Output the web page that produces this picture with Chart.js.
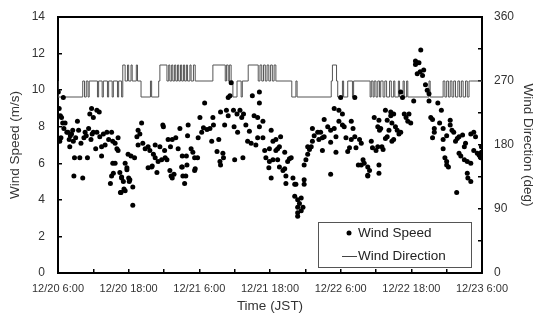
<!DOCTYPE html>
<html>
<head>
<meta charset="utf-8">
<script src="https://cdn.jsdelivr.net/npm/chart.js@4.4.1/dist/chart.umd.min.js"></script>
<style>
body { margin: 0; background: #fff; }
#wrap { width: 540px; height: 325px; }
</style>
</head>
<body>
<div id="wrap"><canvas id="myChart" width="540" height="325"></canvas></div>
<script>
// hours after 12/20 6:00 (JST)
var timeLabels = ['12/20 6:00', '12/20 18:00', '12/21 6:00', '12/21 18:00', '12/22 6:00', '12/22 18:00', '12/23 6:00'];

// wind speed samples (m/s)
var speedHours = [
  0.05,0.2,0.4,0.6,0.9,0.8,1.2,1.0,0.3,0.5,
  1.5,1.7,1.9,2.1,2.3,2.5,2.0,2.6,2.8,2.7,
  3.0,3.3,3.5,3.7,3.9,4.2,4.4,4.6,4.8,5.0,
  5.2,5.4,5.6,5.8,
  5.7,6.6,7.0,6.0,6.0,6.6,7.1,7.7,8.3,8.6,
  9.1,9.3,9.7,10.0,10.2,10.2,7.4,8.0,7.4,6.4,
  9.3,9.1,8.9,10.5,10.8,10.7,11.2,11.4,11.7,12.0,
  12.2,12.7,12.7,11.9,12.4,13.0,9.4,9.7,10.6,11.4,
  10.8,11.1,11.7,12.1,
  13.4,14.2,13.6,13.9,13.6,14.4,14.8,15.3,15.6,16.2,
  16.5,17.0,17.6,15.3,15.9,16.8,17.8,17.3,16.5,16.0,
  18.7,19.4,20.0,19.1,18.1,18.2,18.5,19.0,19.2,19.4,
  19.7,20.4,20.7,22.1,22.0,21.1,21.8,21.1,21.9,21.2,
  21.7,21.5,22.6,22.9,23.2,23.7,23.2,21.0,23.3,17.9,
  23.8,24.4,24.7,25.3,24.9,24.1,25.8,26.4,26.3,26.1,
  27.3,27.0,28.0,28.1,27.5,27.6,27.6,28.6,28.9,28.3,
  29.8,30.4,30.9,31.5,31.2,29.2,28.9,29.4,30.0,31.4,
  29.9,30.5,31.9,32.5,32.2,32.8,33.0,34.2,34.2,33.3,
  33.9,34.8,34.2,33.9,34.8,33.6,35.1,35.9,35.3,35.9,
  36.2,35.8,
  36.2,36.5,37.0,37.3,37.8,37.0,37.6,36.5,37.3,37.6,
  38.2,38.5,38.5,39.3,39.0,39.6,38.7,39.9,38.7,40.2,
  40.4,41.8,41.8,40.2,40.7,41.3,41.0,41.6,41.3,40.7,
  40.7,40.7,41.8,42.1,42.4,42.7,43.0,43.2,42.4,43.2,
  43.5,44.1,44.6,45.2,44.3,44.9,44.9,45.2,45.8,46.3,
  46.9,47.2,46.3,46.3,46.9,47.7,48.3,47.7,48.3,48.6,
  48.0,47.2,49.2,49.5,48.9,49.8,50.4,49.8,50.1,50.6,
  51.2,51.5,50.4,51.8,51.5,52.0,52.6,52.9,52.6,53.2,
  53.4,54.0,54.3,53.7,54.3,54.6,51.0,52.6,
  54.5,54.8,54.5,54.5,55.0,55.2,55.6,55.9,56.2,56.7,
  55.6,55.9,56.7,57.0,56.5,56.5,57.0,57.3,57.6,57.9,
  58.2,58.2,58.5,58.8,59.1,59.6,59.4,59.9,60.4,60.7,
  61.0,61.3,60.7,61.6,61.0,61.5,61.9,62.1,62.4,62.7,
  63.0,63.0,63.3,63.6,63.9,63.9,63.6,64.5,65.1,64.8,
  65.4,65.4,66.0,65.4,65.7,66.0,66.3,66.6,66.6,66.9,
  67.2,67.8,67.5,68.1,68.1,68.4,69.0,69.2,69.0,69.5,
  70.1,68.7,70.1,70.6,70.9,69.5,70.1,67.7,70.6,71.2,
  71.5,71.7,71.9,71.9,71.8,66.0,69.6
];
var speedValues = [
  9.9,9.0,8.6,8.5,9.6,8.2,8.2,7.9,7.2,7.4,
  7.7,7.7,7.3,7.5,7.6,7.8,6.9,7.2,6.3,5.3,
  7.4,8.3,7.8,6.3,7.1,5.2,7.4,7.7,7.5,6.3,
  7.9,8.7,7.3,7.6,
  9.0,8.9,8.8,8.5,7.7,7.7,7.45,7.6,7.7,7.3,
  7.7,7.2,7.1,6.8,7.4,6.7,6.9,7.0,6.4,6.8,
  6.0,5.3,4.9,5.5,5.2,4.4,4.6,6.0,5.65,5.2,
  5.1,4.7,3.7,6.5,6.4,6.3,5.45,6.0,4.4,4.5,
  5.25,5.0,5.75,5.0,
  7.45,8.2,7.8,7.6,7.0,7.1,6.8,6.9,6.7,6.5,
  6.3,6.1,6.2,5.75,5.8,5.5,8.1,6.9,7.0,5.85,
  7.3,7.3,7.4,6.9,6.7,6.3,6.2,5.6,5.3,5.2,
  5.4,6.8,7.9,8.1,7.5,6.4,6.4,5.8,5.9,5.3,
  5.3,4.9,6.8,6.6,6.3,6.3,5.6,5.8,5.7,8.0,
  7.4,7.7,7.95,7.85,9.3,8.5,7.9,8.1,8.5,7.2,
  7.3,6.65,6.55,6.3,6.1,5.9,8.8,8.9,8.6,8.1,
  8.9,8.7,8.9,8.7,8.5,9.7,9.6,10.4,6.2,6.3,
  8.0,7.7,8.1,7.75,7.2,7.1,9.7,9.9,9.3,8.6,
  8.5,8.3,8.0,7.4,7.4,7.0,6.7,6.8,6.3,6.1,
  5.2,5.75,
  7.8,7.2,7.3,6.8,7.45,6.7,6.9,6.2,6.2,5.8,
  5.6,5.7,6.6,6.25,6.1,6.3,5.3,5.2,4.9,4.85,
  4.85,5.1,4.85,4.2,4.0,4.1,3.8,3.6,3.4,3.6,
  3.3,3.1,5.9,6.2,6.5,6.75,6.9,7.2,6.9,7.9,
  7.5,7.7,7.7,7.45,7.3,7.4,6.7,8.4,8.0,7.8,
  7.9,7.45,7.15,5.4,9.0,8.9,8.7,8.3,8.1,8.0,
  9.6,6.6,6.65,6.85,7.4,7.3,7.45,8.3,7.9,6.85,
  7.3,7.1,9.6,6.2,5.9,6.0,5.8,5.6,5.3,7.2,
  6.85,6.7,6.9,8.5,8.0,7.8,5.9,5.35,
  8.35,7.9,5.9,5.45,6.9,6.75,8.9,8.35,7.8,8.2,
  7.35,7.45,7.2,7.3,8.8,8.6,8.7,8.0,7.8,7.6,
  7.7,9.9,9.6,8.7,8.5,8.7,8.3,8.2,9.4,11.6,
  11.5,11.5,11.4,12.2,10.9,11.0,10.8,11.1,10.3,10.0,
  9.8,9.4,8.5,8.4,7.9,7.7,7.4,9.3,8.9,8.2,
  7.9,7.3,7.5,6.8,6.3,6.1,5.8,8.35,8.1,7.8,
  7.7,7.35,7.2,7.45,6.55,6.4,6.9,7.1,6.2,6.1,
  6.0,7.55,7.6,7.7,7.45,5.45,5.0,4.4,6.7,6.55,
  6.45,6.35,6.6,6.9,6.3,5.9,5.2
];

// wind direction (deg): value holds from each change time until the next
var dirHours = [
  0,4.2,4.5,4.8,5.1,5.3,6.7,6.9,7.5,7.7,
  8.4,8.6,9.2,9.4,10.1,10.3,10.8,11.0,11.4,11.8,
  12.0,12.4,12.6,13.3,13.5,14.1,15.7,15.9,17.1,17.3,
  18.5,18.8,19.0,19.3,19.5,19.8,20.0,20.3,20.5,20.8,
  21.0,21.3,21.5,21.8,22.0,22.4,22.6,23.0,23.3,26.3,
  28.4,28.6,28.9,29.1,29.4,29.7,30.4,31.1,31.3,32.3,
  34.0,34.3,34.6,34.9,35.2,35.5,35.8,36.1,36.4,36.7,
  37.0,39.7,40.4,40.6,46.4,46.6,47.3,47.5,48.3,48.5,
  49.2,50.0,50.2,53.0,53.2,53.5,53.7,54.0,54.3,54.6,
  54.8,55.2,55.5,55.8,56.3,56.6,57.0,57.2,57.8,58.0,
  58.6,58.8,59.2,59.4,63.0,63.2,65.4,65.7,66.0,66.3,
  66.6,66.9,67.2,67.5,67.9,68.2,68.5,68.8,69.2,69.5,
  69.8,70.0,72
];
var dirValues = [
  270,247.5,270,247.5,270,247.5,270,247.5,270,247.5,
  270,247.5,270,247.5,270,247.5,270,247.5,292.5,270,
  292.5,270,292.5,270,292.5,270,247.5,270,247.5,270,
  292.5,270,292.5,270,292.5,270,292.5,270,292.5,270,
  292.5,270,292.5,270,292.5,270,292.5,270,292.5,270,
  292.5,270,292.5,270,292.5,270,247.5,270,247.5,270,
  292.5,270,292.5,270,292.5,270,292.5,270,292.5,270,
  292.5,270,247.5,270,247.5,270,292.5,270,247.5,270,
  247.5,270,247.5,270,247.5,270,247.5,270,247.5,270,
  247.5,270,247.5,270,247.5,270,247.5,270,247.5,270,
  247.5,270,247.5,270,247.5,270,247.5,270,247.5,270,
  247.5,270,247.5,270,247.5,270,247.5,270,247.5,270,
  247.5,270,270
];

var speedPoints = [];
for (let i = 0; i < speedHours.length; i++) {
  speedPoints.push({ x: speedHours[i], y: speedValues[i] });
}
var dirPoints = [];
for (let i = 0; i < dirHours.length; i++) {
  dirPoints.push({ x: dirHours[i], y: dirValues[i] });
}

Chart.defaults.font.family = '"Liberation Sans", Arial, sans-serif';
Chart.defaults.color = '#333';

// legend box sits inside the plot, bottom right
var legendBox = {
  id: 'legendBox',
  afterDraw: function(chart) {
    var c = chart.ctx;
    var a = chart.chartArea;
    var bx = a.right - 164, by = a.bottom - 51;
    c.save();
    c.fillStyle = '#fff';
    c.fillRect(bx, by, 153, 45);
    c.strokeStyle = '#555';
    c.lineWidth = 1;
    c.strokeRect(bx + 0.5, by + 0.5, 153, 45);
    c.fillStyle = '#000';
    c.beginPath();
    c.arc(bx + 31, by + 11, 2.5, 0, Math.PI * 2);
    c.fill();
    c.strokeStyle = '#444';
    c.beginPath();
    c.moveTo(bx + 24, by + 34.5);
    c.lineTo(bx + 39, by + 34.5);
    c.stroke();
    c.fillStyle = '#222';
    c.font = '13.5px "Liberation Sans", Arial, sans-serif';
    c.textBaseline = 'middle';
    c.fillText('Wind Speed', bx + 40, by + 11);
    c.fillText('Wind Direction', bx + 40, by + 34.5);
    c.restore();
  }
};

// fixed side widths; drop the tick padding from the top/bottom overflow
function sideFit(s) {
  s.width = 58;
  s.paddingTop = 7;
  s.paddingBottom = 7;
}

var ctx = document.getElementById('myChart').getContext('2d');
var myChart = new Chart(ctx, {
  type: 'scatter',
  data: {
    datasets: [{
      label: 'Wind Speed',
      data: speedPoints,
      yAxisID: 'y',
      xAxisID: 'x',
      backgroundColor: '#000',
      borderColor: '#000',
      pointRadius: 2.5,
      borderWidth: 0
    }, {
      label: 'Wind Direction',
      type: 'line',
      data: dirPoints,
      yAxisID: 'y2',
      xAxisID: 'x',
      stepped: 'after',
      borderColor: '#555',
      borderWidth: 1,
      pointRadius: 0,
      fill: false
    }]
  },
  options: {
    responsive: false,
    animation: false,
    devicePixelRatio: 1,
    layout: { padding: { top: 17 } },
    plugins: { legend: { display: false }, tooltip: { enabled: false } },
    scales: {
      x: {
        type: 'linear',
        position: 'bottom',
        min: 0,
        max: 72,
        afterFit: function(s) { s.height = 52; },
        ticks: {
          stepSize: 6,
          autoSkip: false,
          maxRotation: 0,
          padding: 13,
          font: { size: 11 },
          callback: function(v) { return v % 12 === 0 ? timeLabels[v / 12] : ''; }
        },
        grid: { drawOnChartArea: false, tickLength: -4, color: '#000', lineWidth: 1.5 },
        border: { color: '#000', width: 2 },
        title: { display: true, text: 'Time (JST)', font: { size: 13.5 }, padding: { top: 0, bottom: 11 } }
      },
      xTop: {
        type: 'linear',
        position: 'top',
        afterFit: function(s) { s.height = 0; },
        ticks: { display: false },
        grid: { drawOnChartArea: false, drawTicks: false },
        border: { color: '#000', width: 2 }
      },
      y: {
        position: 'left',
        min: 0,
        max: 14,
        afterFit: sideFit,
        ticks: { stepSize: 2, padding: 17, font: { size: 12 } },
        grid: { drawOnChartArea: false, tickLength: -4, color: '#000', lineWidth: 1.5 },
        border: { color: '#000', width: 2 },
        title: { display: true, text: 'Wind Speed (m/s)', font: { size: 13.5 }, padding: { top: 7, bottom: 0 } }
      },
      y2: {
        position: 'right',
        min: 0,
        max: 360,
        afterFit: sideFit,
        ticks: {
          stepSize: 45,
          padding: 16,
          font: { size: 12 },
          callback: function(v) { return v % 90 === 0 ? v : ''; }
        },
        grid: { drawOnChartArea: false, tickLength: -4, color: '#000', lineWidth: 1.5 },
        border: { color: '#000', width: 2 },
        title: { display: true, text: 'Wind Direction (deg)', font: { size: 13.5 }, padding: { top: 4, bottom: 0 } }
      }
    }
  },
  plugins: [legendBox]
});
</script>
</body>
</html>
